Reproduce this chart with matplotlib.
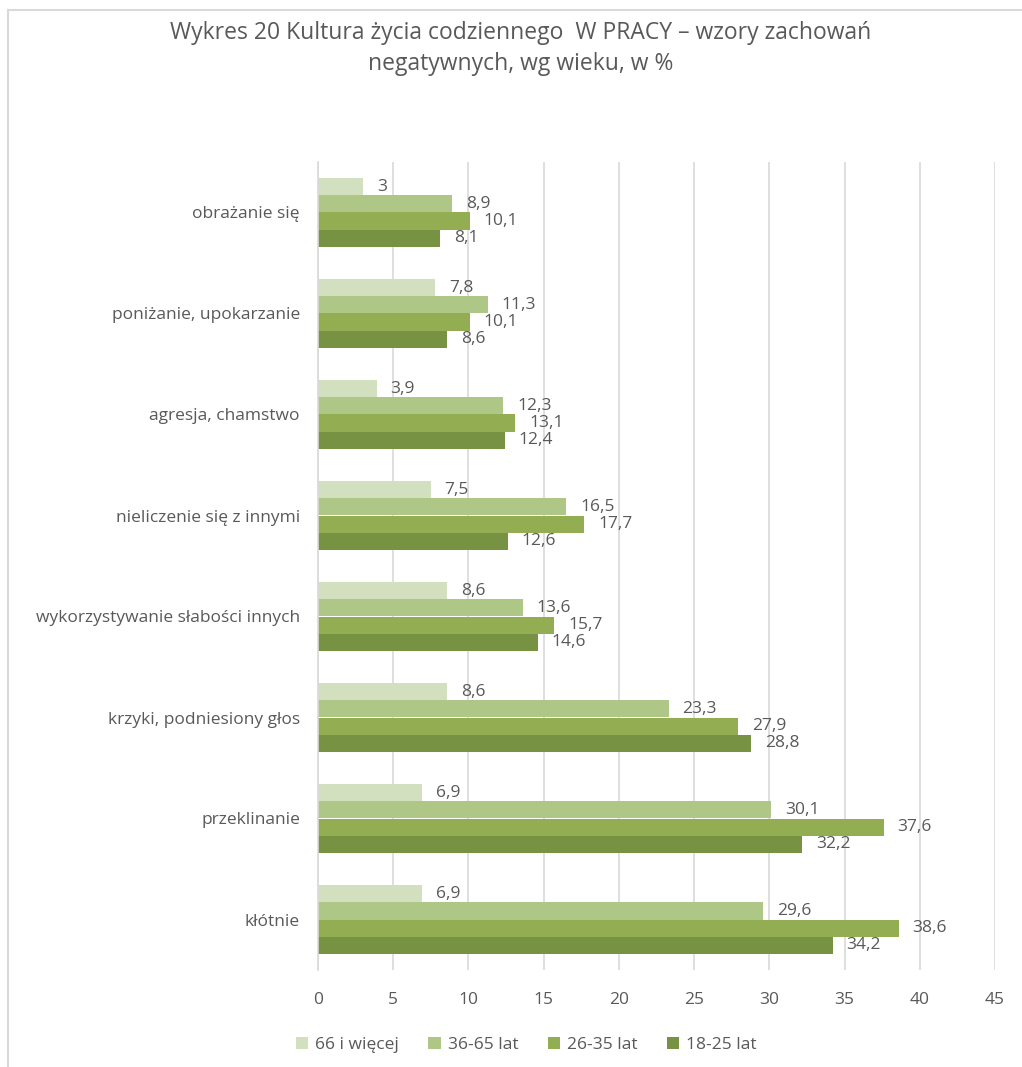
import numpy as np
import matplotlib
matplotlib.use("Agg")
import matplotlib.pyplot as plt
from matplotlib.lines import Line2D

plt.rcParams['font.family'] = ['Open Sans', 'DejaVu Sans']

categories = [
    "obrażanie się",
    "poniżanie, upokarzanie",
    "agresja, chamstwo",
    "nieliczenie się z innymi",
    "wykorzystywanie słabości innych",
    "krzyki, podniesiony głos",
    "przeklinanie",
    "kłótnie",
]
series_names = ["66 i więcej", "36-65 lat", "26-35 lat", "18-25 lat"]
age_66_plus = [3, 7.8, 3.9, 7.5, 8.6, 8.6, 6.9, 6.9]
age_36_65 = [8.9, 11.3, 12.3, 16.5, 13.6, 23.3, 30.1, 29.6]
age_26_35 = [10.1, 10.1, 13.1, 17.7, 15.7, 27.9, 37.6, 38.6]
age_18_25 = [8.1, 8.6, 12.4, 12.6, 14.6, 28.8, 32.2, 34.2]
x_ticks = [0, 5, 10, 15, 20, 25, 30, 35, 40, 45]

colors = ["#d3e0bf", "#aec686", "#92ad52", "#779242"]
text_color = "#595959"

fig = plt.figure(figsize=(10.22, 10.67), dpi=100)
ax = fig.add_axes([318 / 1022, 1 - 970 / 1067, 677 / 1022, 808 / 1067])

y = np.arange(len(categories))
bar_h = 0.17
values = [age_66_plus, age_36_65, age_26_35, age_18_25]
for i, (name, vals, col) in enumerate(zip(series_names, values, colors)):
    pos = y - 1.5 * bar_h + i * bar_h
    ax.barh(pos, vals, height=bar_h, color=col, label=name, zorder=2)
    for p, v in zip(pos, vals):
        ax.annotate(f"{v:g}".replace(".", ","), (v, p), xytext=(10, 0),
                    textcoords="offset points", ha="left", va="center",
                    fontsize=12.5, color=text_color)

ax.set_xlim(0, 45)
ax.set_ylim(len(categories) - 0.5, -0.5)
ax.set_xticks(x_ticks)
ax.set_xticklabels([str(t) for t in x_ticks])
ax.set_yticks(y)
ax.set_yticklabels(categories)
ax.tick_params(axis="both", length=0, labelsize=12.5, colors=text_color)
ax.tick_params(axis="y", pad=13)
ax.tick_params(axis="x", pad=16)
ax.grid(axis="x", color="#d9d9d9", linewidth=1.2, zorder=0)
for s in ["top", "right", "bottom"]:
    ax.spines[s].set_visible(False)
ax.spines["left"].set_color("#d9d9d9")
ax.spines["left"].set_linewidth(1.2)

fig.text(0.509, 1 - 33 / 1067, "Wykres 20 Kultura życia codziennego  W PRACY – wzory zachowań",
         ha="center", va="center", fontsize=16.5, color=text_color)
fig.text(0.509, 1 - 64 / 1067, "negatywnych, wg wieku, w %",
         ha="center", va="center", fontsize=16.5, color=text_color)

handles, labels = ax.get_legend_handles_labels()
fig.legend(handles, labels, loc="center", bbox_to_anchor=(0.515, 1 - 1045 / 1067),
           ncol=4, frameon=False, fontsize=12.5, labelcolor=text_color,
           handlelength=0.7, handleheight=0.7, handletextpad=0.4, columnspacing=1.7)

# frame edges of the chart area
fig.add_artist(Line2D([8 / 1022, 8 / 1022], [0, 1 - 10 / 1067], transform=fig.transFigure,
                      color="#d9d9d9", linewidth=1.5))
fig.add_artist(Line2D([8 / 1022, 1], [1 - 10 / 1067, 1 - 10 / 1067], transform=fig.transFigure,
                      color="#d9d9d9", linewidth=1.5))

fig.savefig("out.png", dpi=100)
